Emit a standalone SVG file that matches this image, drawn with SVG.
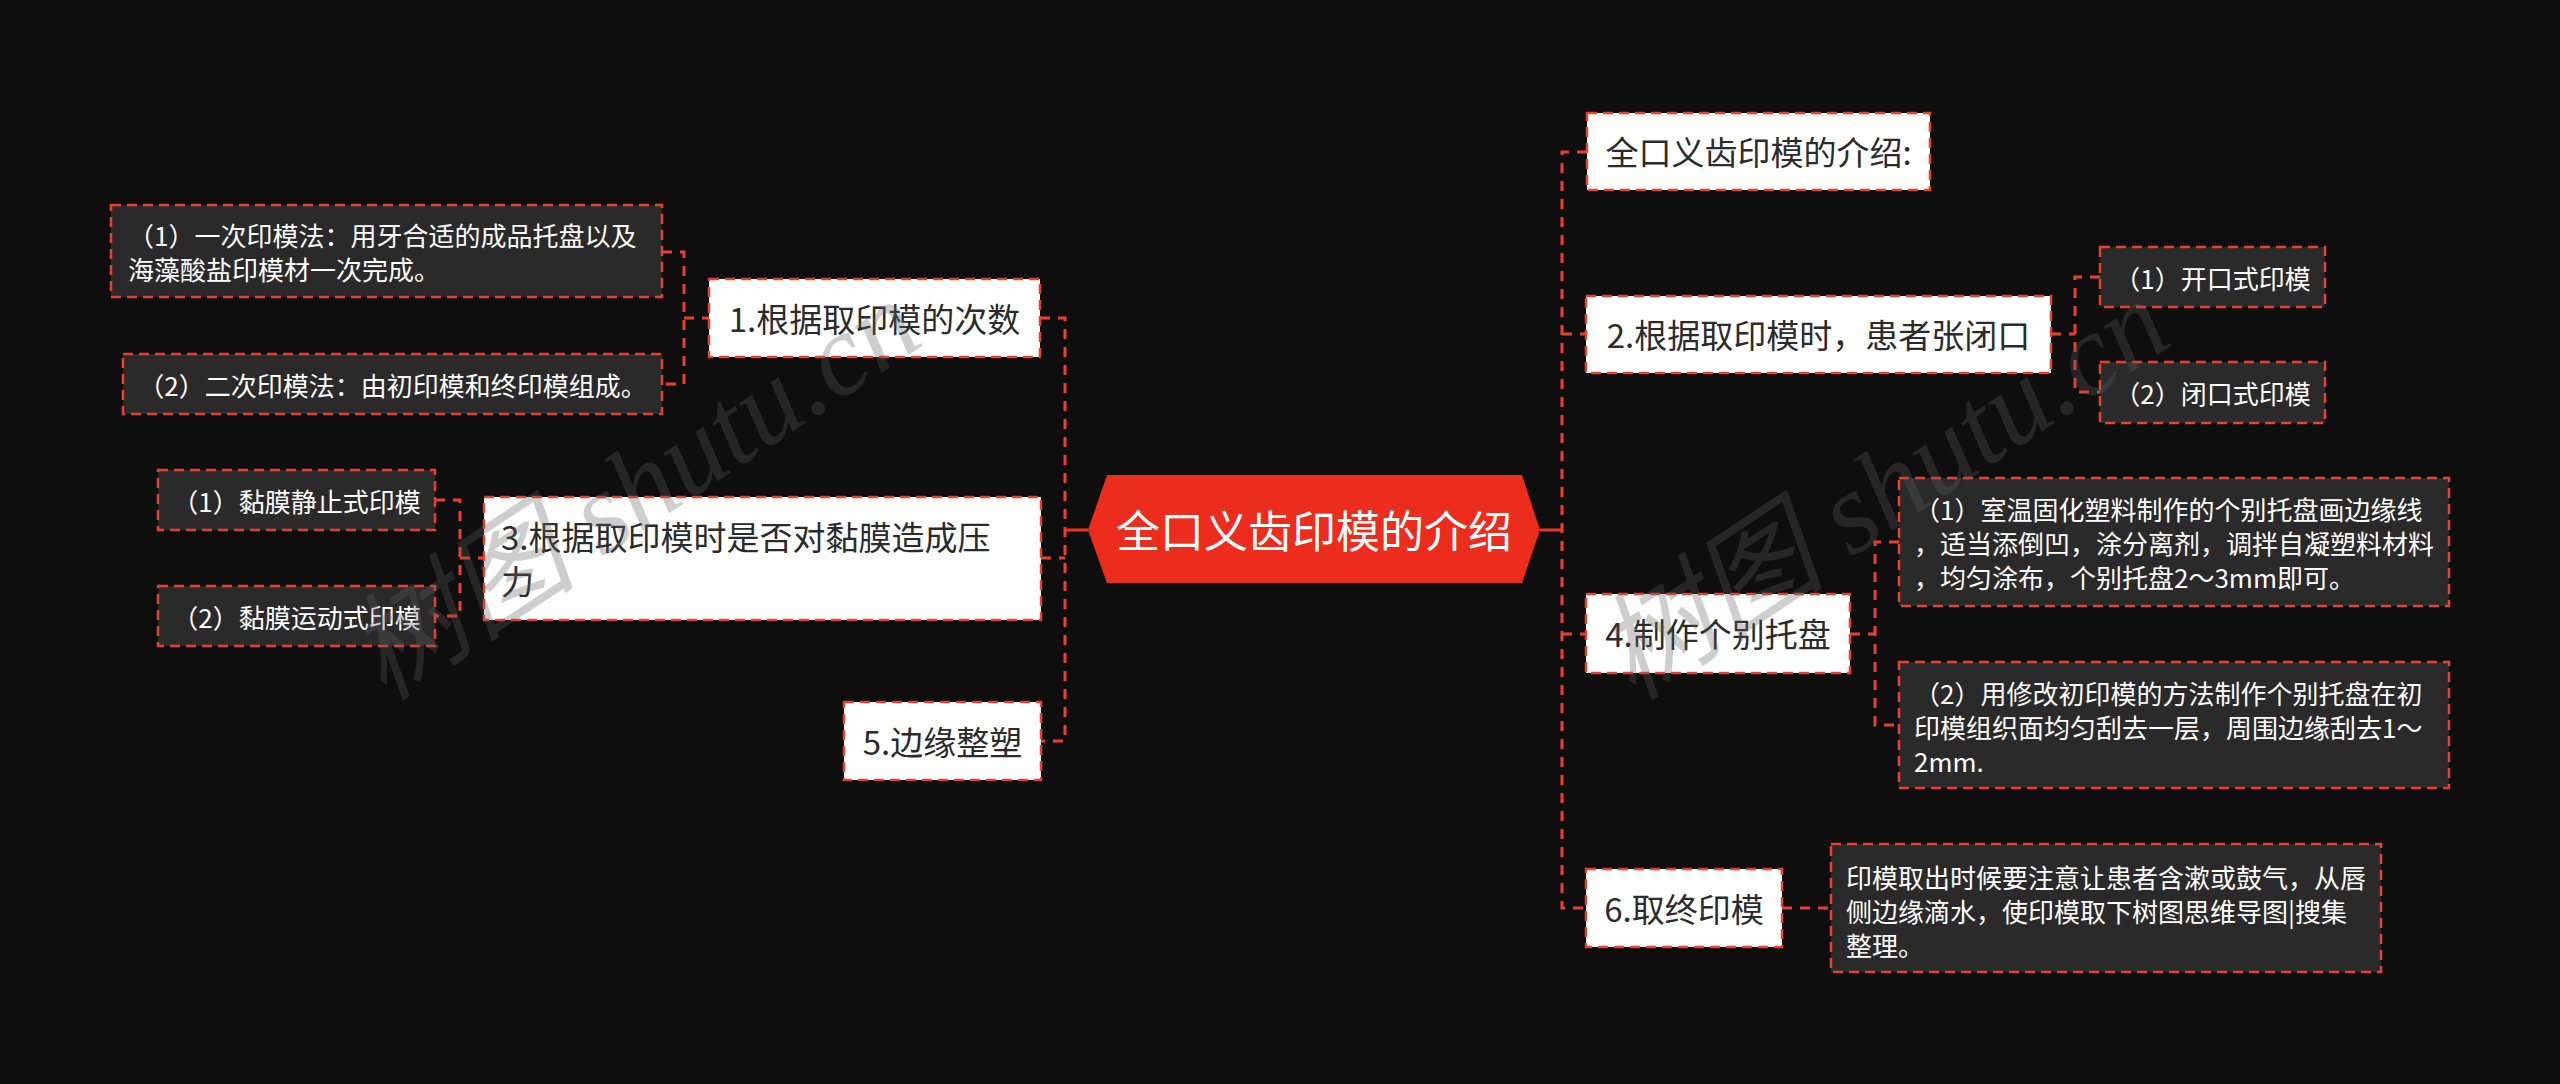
<svg xmlns="http://www.w3.org/2000/svg" width="2560" height="1084" viewBox="0 0 2560 1084">
<style>
.bg{fill:#0e0e0e}
.lvl{fill:#ffffff;stroke:#e8412c;stroke-width:2.5;stroke-dasharray:10 6}
.sub{fill:#2a2a2a;stroke:#e8412c;stroke-width:2.5;stroke-dasharray:10 6}
.t1{font-family:"Noto Sans CJK SC","Noto Sans",sans-serif;font-size:33px;fill:#2b2b2b;dominant-baseline:central}
.t2{font-family:"Noto Sans CJK SC","Noto Sans",sans-serif;font-size:26px;fill:#ffffff;dominant-baseline:central}
.root{font-family:"Noto Sans CJK SC","Noto Sans",sans-serif;font-size:44px;fill:#ffffff;dominant-baseline:central}
.dash{fill:none;stroke:#e8412c;stroke-width:3;stroke-dasharray:10 8}
.solid{fill:none;stroke:#ec3220;stroke-width:3}
.wm{font-family:"Liberation Serif","Noto Sans CJK SC",serif;font-style:italic;font-size:116px;fill:#606060;opacity:0.3}
</style>
<rect class="bg" x="0" y="0" width="2560" height="1084"/>

<g id="connectors">
  <path class="solid" d="M1088,530 H1065"/>
  <path class="solid" d="M1540,530 H1562"/>
  <path class="dash" d="M1040,318 H1065 V741 H1041"/>
  <path class="dash" d="M1041,558 H1065"/>
  <path class="dash" d="M1587,152 H1562 V908 H1586"/>
  <path class="dash" d="M1562,334 H1586"/>
  <path class="dash" d="M1562,634 H1586"/>
  <path class="dash" d="M662,252 H684 V384 H662"/>
  <path class="dash" d="M684,318 H709"/>
  <path class="dash" d="M435,500 H460 V616 H435"/>
  <path class="dash" d="M460,558 H484"/>
  <path class="dash" d="M2051,334 H2075"/>
  <path class="dash" d="M2100,277 H2075 V392 H2100"/>
  <path class="dash" d="M1850,634 H1875"/>
  <path class="dash" d="M1899,542 H1875 V725 H1899"/>
  <path class="dash" d="M1782,908 H1831"/>
</g>

<g id="root">
  <polygon points="1088,530 1107,475 1522,475 1540,530 1522,583 1107,583" fill="#ec2c1c"/>
  <text class="root" x="1314" y="529" text-anchor="middle">全口义齿印模的介绍</text>
</g>

<g id="n1">
  <rect class="lvl" x="709" y="279" width="331" height="78"/>
  <text class="t1" x="874.5" y="318" text-anchor="middle">1.根据取印模的次数</text>
</g>
<g id="n1a">
  <rect class="sub" x="111" y="205" width="551" height="92"/>
  <text class="t2" x="128" y="234">（1）一次印模法：用牙合适的成品托盘以及</text>
  <text class="t2" x="128" y="268">海藻酸盐印模材一次完成。</text>
</g>
<g id="n1b">
  <rect class="sub" x="123" y="354" width="539" height="60"/>
  <text class="t2" x="392.5" y="384" text-anchor="middle">（2）二次印模法：由初印模和终印模组成。</text>
</g>

<g id="n3">
  <rect class="lvl" x="484" y="497" width="557" height="123"/>
  <text class="t1" x="501" y="536">3.根据取印模时是否对黏膜造成压</text>
  <text class="t1" x="501" y="580">力</text>
</g>
<g id="n3a">
  <rect class="sub" x="158" y="470" width="277" height="60"/>
  <text class="t2" x="296.5" y="500" text-anchor="middle">（1）黏膜静止式印模</text>
</g>
<g id="n3b">
  <rect class="sub" x="158" y="586" width="277" height="60"/>
  <text class="t2" x="296.5" y="616" text-anchor="middle">（2）黏膜运动式印模</text>
</g>

<g id="n5">
  <rect class="lvl" x="844" y="702" width="197" height="78"/>
  <text class="t1" x="942.5" y="741" text-anchor="middle">5.边缘整塑</text>
</g>

<g id="n0">
  <rect class="lvl" x="1587" y="113" width="343" height="77"/>
  <text class="t1" x="1758.5" y="151" text-anchor="middle">全口义齿印模的介绍:</text>
</g>

<g id="n2">
  <rect class="lvl" x="1586" y="296" width="465" height="77"/>
  <text class="t1" x="1818.5" y="334" text-anchor="middle">2.根据取印模时，患者张闭口</text>
</g>
<g id="n2a">
  <rect class="sub" x="2100" y="247" width="225" height="60"/>
  <text class="t2" x="2212.5" y="277" text-anchor="middle">（1）开口式印模</text>
</g>
<g id="n2b">
  <rect class="sub" x="2100" y="362" width="225" height="61"/>
  <text class="t2" x="2212.5" y="392" text-anchor="middle">（2）闭口式印模</text>
</g>

<g id="n4">
  <rect class="lvl" x="1586" y="594" width="264" height="79"/>
  <text class="t1" x="1718" y="633" text-anchor="middle">4.制作个别托盘</text>
</g>
<g id="n4a">
  <rect class="sub" x="1899" y="478" width="550" height="128"/>
  <text class="t2" x="1914" y="508">（1）室温固化塑料制作的个别托盘画边缘线</text>
  <text class="t2" x="1914" y="542">，适当添倒凹，涂分离剂，调拌自凝塑料材料</text>
  <text class="t2" x="1914" y="576">，均匀涂布，个别托盘2～3mm即可。</text>
</g>
<g id="n4b">
  <rect class="sub" x="1899" y="662" width="550" height="126"/>
  <text class="t2" x="1914" y="692">（2）用修改初印模的方法制作个别托盘在初</text>
  <text class="t2" x="1914" y="726">印模组织面均匀刮去一层，周围边缘刮去1～</text>
  <text class="t2" x="1914" y="760">2mm.</text>
</g>

<g id="n6">
  <rect class="lvl" x="1586" y="869" width="196" height="78"/>
  <text class="t1" x="1684" y="908" text-anchor="middle">6.取终印模</text>
</g>
<g id="n6a">
  <rect class="sub" x="1831" y="844" width="550" height="128"/>
  <text class="t2" x="1846" y="876">印模取出时候要注意让患者含漱或鼓气，从唇</text>
  <text class="t2" x="1846" y="910">侧边缘滴水，使印模取下树图思维导图|搜集</text>
  <text class="t2" x="1846" y="944">整理。</text>
</g>

<g id="watermark">
  <text class="wm" x="384" y="702" transform="rotate(-33.5 384 702)">树图 shutu.cn</text>
  <text class="wm" x="1633" y="702" transform="rotate(-33.5 1633 702)">树图 shutu.cn</text>
</g>
</svg>
